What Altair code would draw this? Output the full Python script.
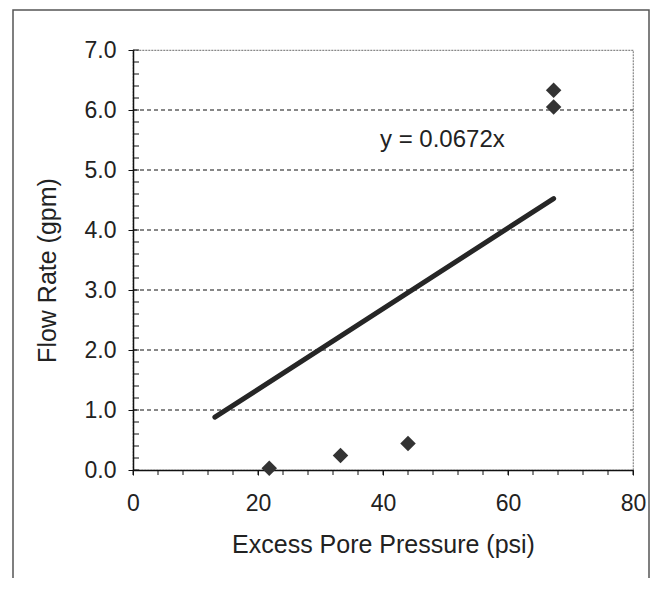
import altair as alt
import pandas as pd

# Data
pressure = [21.8, 33.2, 44.0, 67.3, 67.3]
flow = [0.03, 0.24, 0.44, 6.05, 6.33]
fit_x = [13.1, 67.3]
slope = 0.0672
grid_y = [1, 2, 3, 4, 5, 6]
y_ticks = [0, 1, 2, 3, 4, 5, 6, 7]
y_minor = [round(i * 0.2, 1) for i in range(36)]
x_labels = [0, 20, 40, 60, 80]
x_minor = list(range(0, 81, 4))
eq_label = ["y = 0.0672x"]
eq_x = [49.5]
eq_y = [5.5]

FONT = "Liberation Sans"
INK = "#222222"

pts = pd.DataFrame({"p": pressure, "q": flow})
fit = pd.DataFrame({"p": fit_x, "q": [slope * v for v in fit_x]})
grid = pd.DataFrame({"q": grid_y})
minor = pd.DataFrame({"q": y_minor})
xminor = pd.DataFrame({"p": x_minor})
eq = pd.DataFrame({"p": eq_x, "q": eq_y, "t": eq_label})
frame_df = pd.DataFrame({"a": [0]})

xs = alt.Scale(domain=[0, 80], nice=False)
ys = alt.Scale(domain=[0, 7], nice=False)

frame = alt.Chart(frame_df).mark_rect(
    fill=None, stroke="#555555", strokeWidth=1.5, clip=False
).encode(
    x=alt.value(-120), x2=alt.value(516), y=alt.value(-40), y2=alt.value(600)
)

grid_rules = alt.Chart(grid).mark_rule(
    color="#111111", strokeWidth=1, strokeDash=[4, 3]
).encode(
    y=alt.Y("q:Q", scale=ys), x=alt.value(0), x2=alt.value(500)
)

minor_ticks = alt.Chart(minor).mark_rule(color="#111111", strokeWidth=1).encode(
    y=alt.Y("q:Q", scale=ys), x=alt.value(0), x2=alt.value(6)
)

x_minor_ticks = alt.Chart(xminor).mark_rule(
    color="#111111", strokeWidth=1, clip=False
).encode(
    x=alt.X("p:Q", scale=xs), y=alt.value(420), y2=alt.value(425)
)

line = alt.Chart(fit).mark_line(
    color="#262626", strokeWidth=5, strokeCap="round"
).encode(
    x=alt.X("p:Q", scale=xs), y=alt.Y("q:Q", scale=ys)
)

points = alt.Chart(pts).mark_point(
    shape="diamond", filled=True, size=240, color="#333333", opacity=1
).encode(
    x=alt.X(
        "p:Q",
        scale=xs,
        title="Excess Pore Pressure (psi)",
        axis=alt.Axis(
            values=x_labels,
            tickSize=5,
            labelPadding=17,
            titlePadding=17,
            labelFlush=False,
            labelOverlap=False,
            grid=False,
        ),
    ),
    y=alt.Y(
        "q:Q",
        scale=ys,
        title="Flow Rate (gpm)",
        axis=alt.Axis(
            values=y_ticks,
            format=".1f",
            tickSize=5,
            labelPadding=12,
            titlePadding=24,
            titleY=220,
            labelFlush=False,
            labelOverlap=False,
            grid=False,
        ),
    ),
)

text = alt.Chart(eq).mark_text(
    font=FONT, fontSize=24, color=INK, align="center", baseline="middle"
).encode(
    x=alt.X("p:Q", scale=xs), y=alt.Y("q:Q", scale=ys), text="t:N"
)

chart = (
    alt.layer(frame, grid_rules, minor_ticks, x_minor_ticks, line, points, text)
    .properties(
        width=500,
        height=420,
        autosize=alt.AutoSizeParams(type="none"),
        padding={"left": 125, "top": 42, "right": 18, "bottom": 108},
        background="white",
    )
    .configure_view(stroke="#888888", strokeDash=[2, 1], strokeWidth=1.2)
    .configure_axis(
        domainColor="#111111",
        domainWidth=1.5,
        tickColor="#111111",
        tickWidth=1,
        labelFont=FONT,
        labelFontSize=23,
        labelColor=INK,
        titleFont=FONT,
        titleFontSize=25,
        titleFontWeight="normal",
        titleColor=INK,
    )
)

chart.save("out.html", embed_options={"renderer": "svg", "actions": False})
